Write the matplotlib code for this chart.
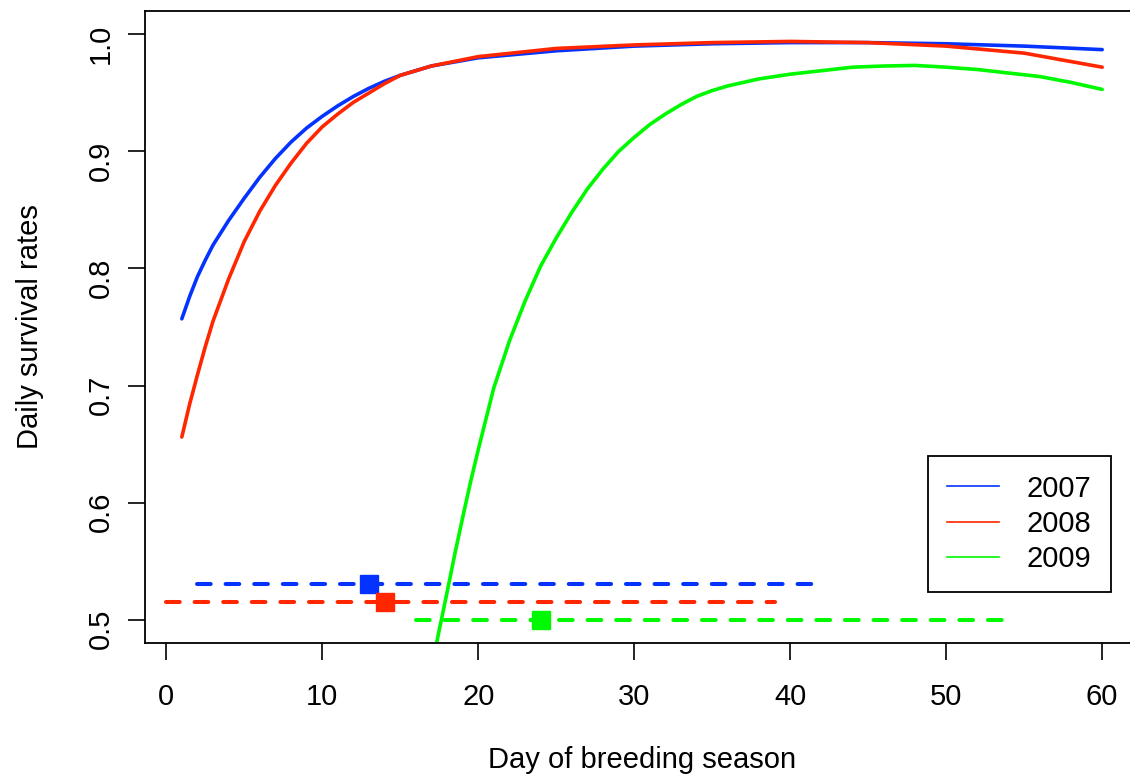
import matplotlib.pyplot as plt

plt.rcParams['font.family'] = ['Liberation Sans', 'DejaVu Sans']

# daily survival curves
days_2007 = [1, 1.5, 2, 2.5, 3, 4, 5, 6, 7, 8, 9, 10, 11, 12, 13, 14, 15, 17, 20, 25, 30, 35, 40,
             45, 50, 55, 60]
dsr_2007 = [0.757, 0.776, 0.793, 0.807, 0.820, 0.841, 0.860, 0.878, 0.894, 0.908, 0.920, 0.930,
            0.939, 0.947, 0.954, 0.960, 0.965, 0.973, 0.980, 0.986, 0.990, 0.992, 0.993, 0.993,
            0.992, 0.990, 0.987]

days_2008 = [1, 1.5, 2, 2.5, 3, 4, 5, 6, 7, 8, 9, 10, 11, 12, 13, 14, 15, 17, 20, 25, 30, 35, 40,
             45, 50, 55, 60]
dsr_2008 = [0.656, 0.684, 0.709, 0.733, 0.755, 0.791, 0.823, 0.849, 0.871, 0.890, 0.907, 0.921,
            0.932, 0.942, 0.950, 0.958, 0.965, 0.973, 0.981, 0.988, 0.991, 0.993, 0.994, 0.993,
            0.990, 0.984, 0.972]

days_2009 = [17, 17.5, 18, 18.5, 19, 19.5, 20, 21, 22, 23, 24, 25, 26, 27, 28, 29, 30, 31, 32, 33,
             34, 35, 36, 37, 38, 40, 42, 44, 46, 48, 50, 52, 54, 56, 58, 60]
dsr_2009 = [0.458, 0.491, 0.523, 0.556, 0.587, 0.617, 0.645, 0.698, 0.738, 0.772, 0.802, 0.826,
            0.848, 0.868, 0.885, 0.900, 0.912, 0.923, 0.932, 0.940, 0.947, 0.952, 0.956, 0.959,
            0.962, 0.966, 0.969, 0.972, 0.973, 0.9735, 0.972, 0.970, 0.967, 0.964, 0.959, 0.953]

# mean start day with range (dashed segments + square)
years = ['2007', '2008', '2009']
seg_y = [0.53, 0.515, 0.50]
seg_start = [2, 0, 16]
seg_end = [42, 39, 54]
mean_day = [13, 14, 24]

colors = ['#0433FF', '#FF2600', '#00F900']

fig = plt.figure(figsize=(11.3, 7.78), dpi=100)
ax = fig.add_axes([145 / 1130, 1 - 643 / 778, 994 / 1130, 632 / 778])

curves = [(days_2007, dsr_2007), (days_2008, dsr_2008), (days_2009, dsr_2009)]
for (d, v), c in zip(curves, colors):
    ax.plot(d, v, color=c, lw=2.6, solid_capstyle='round', solid_joinstyle='round')

for i in range(3):
    ax.plot([seg_start[i], seg_end[i]], [seg_y[i], seg_y[i]], color=colors[i], lw=2.9,
            dashes=(3.4, 3.7), dash_capstyle='round')
    ax.plot(mean_day[i], seg_y[i], marker='s', ms=13.5, color=colors[i], mec=colors[i], ls='none')

ax.set_xlim(-1.36, 62.36)
ax.set_ylim(0.48, 1.02)
ax.set_xticks([0, 10, 20, 30, 40, 50, 60])
ax.set_yticks([0.5, 0.6, 0.7, 0.8, 0.9, 1.0])
ax.set_yticklabels(['0.5', '0.6', '0.7', '0.8', '0.9', '1.0'])
ax.tick_params(axis='both', labelsize=21, length=12, width=1.2, direction='out')
ax.tick_params(axis='x', pad=17)
ax.tick_params(axis='y', pad=10, labelrotation=90)
for s in ax.spines.values():
    s.set_linewidth(1.3)

# x label sits at the very bottom edge, kept just inside the figure
fig.text(642 / 1130, 1 - 760 / 778, 'Day of breeding season', fontsize=21, ha='center', va='center')
fig.text(30 / 1130, 1 - 327 / 778, 'Daily survival rates', fontsize=21, ha='center', va='center',
         rotation=90)

handles = [plt.Line2D([], [], color=c, lw=1.2) for c in colors]
leg = ax.legend(handles, years, loc='upper right', bbox_to_anchor=(1110.7 / 1130, 1 - 455.7 / 778),
                bbox_transform=fig.transFigure, borderaxespad=0, fontsize=21, fancybox=False,
                framealpha=1, edgecolor='black', handlelength=1.8, handletextpad=0.95,
                labelspacing=0.25, borderpad=0.65)
leg.get_frame().set_linewidth(1.3)

plt.savefig('out.png', dpi=100)
